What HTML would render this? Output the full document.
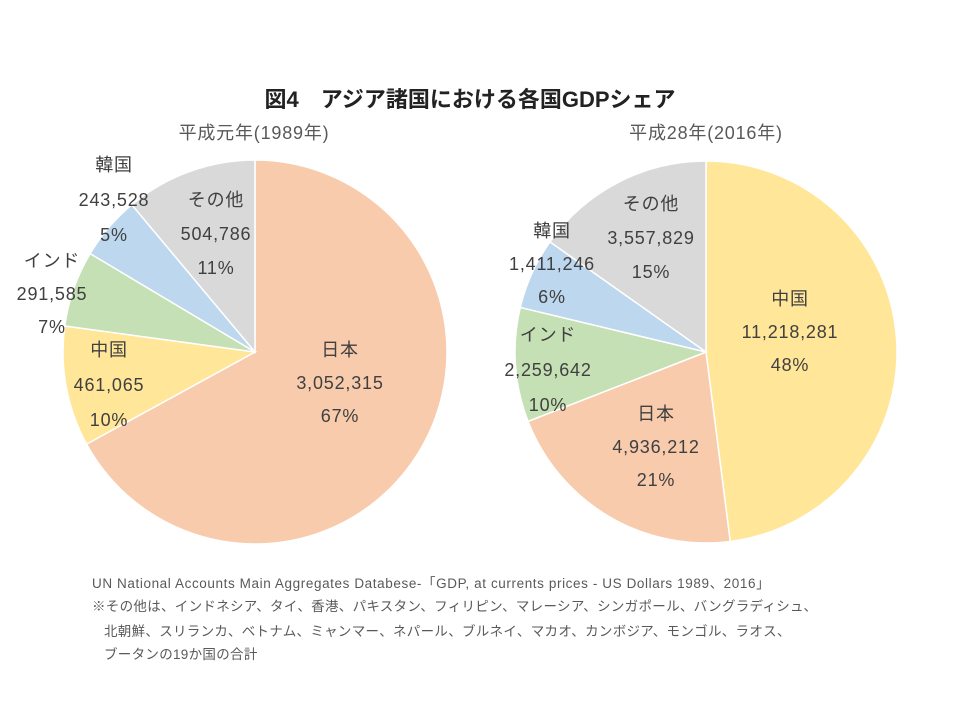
<!DOCTYPE html>
<html><head><meta charset="utf-8">
<style>
body{margin:0;background:#fff;width:960px;height:720px;overflow:hidden;font-family:"Liberation Sans","Noto Sans CJK JP",sans-serif;}
.t{position:absolute;color:#404040;font-size:18px;letter-spacing:0.8px;text-align:center;white-space:nowrap;transform:translateX(-50%);line-height:1}
.n{position:absolute;color:#595959;font-size:13.5px;letter-spacing:0.3px;white-space:nowrap;line-height:1}
</style></head><body>
<div style="position:absolute;left:470px;top:82px;transform:translateX(-50%);font-size:22px;font-weight:bold;color:#222;white-space:nowrap">図4　アジア諸国における各国GDPシェア</div>
<div class="t" style="left:254px;top:124px;color:#595959">平成元年(1989年)</div>
<div class="t" style="left:706px;top:124px;color:#595959">平成28年(2016年)</div>
<svg width="960" height="720" style="position:absolute;left:0;top:0">
<g id="p1"></g><g id="p2"></g></svg>

<div class="t" style="left:340px;top:334px;line-height:33px">日本<br>3,052,315<br>67%</div>
<div class="t" style="left:109px;top:333px;line-height:35px">中国<br>461,065<br>10%</div>
<div class="t" style="left:52px;top:245px;line-height:33px">インド<br>291,585<br>7%</div>
<div class="t" style="left:114px;top:148px;line-height:35px">韓国<br>243,528<br>5%</div>
<div class="t" style="left:216px;top:183px;line-height:34px">その他<br>504,786<br>11%</div>

<div class="t" style="left:790px;top:283px;line-height:33px">中国<br>11,218,281<br>48%</div>
<div class="t" style="left:656px;top:398px;line-height:33px">日本<br>4,936,212<br>21%</div>
<div class="t" style="left:548px;top:318px;line-height:35px">インド<br>2,259,642<br>10%</div>
<div class="t" style="left:552px;top:215px;line-height:33px">韓国<br>1,411,246<br>6%</div>
<div class="t" style="left:651px;top:187px;line-height:34px">その他<br>3,557,829<br>15%</div>

<div class="n" style="left:92px;top:577px;letter-spacing:0.6px">UN National Accounts Main Aggregates Databese-「GDP, at currents prices - US Dollars 1989、2016」</div>
<div class="n" style="left:92px;top:600px">※その他は、インドネシア、タイ、香港、パキスタン、フィリピン、マレーシア、シンガポール、バングラディシュ、</div>
<div class="n" style="left:104px;top:625px">北朝鮮、スリランカ、ベトナム、ミャンマー、ネパール、ブルネイ、マカオ、カンボジア、モンゴル、ラオス、</div>
<div class="n" style="left:104px;top:648px">ブータンの19か国の合計</div>
<script>
const cats1=["日本","中国","インド","韓国","その他"];
const vals1=[3052315,461065,291585,243528,504786];
const cats2=["中国","日本","インド","韓国","その他"];
const vals2=[11218281,4936212,2259642,1411246,3557829];
const colorMap={"日本":"#F8CBAD","中国":"#FFE699","インド":"#C5E0B4","韓国":"#BDD7EE","その他":"#D9D9D9"};
function pie(gid,cx,cy,r,cats,vals){
  const g=document.getElementById(gid);
  const tot=vals.reduce((a,b)=>a+b,0);
  let a=0;
  vals.forEach((v,i)=>{
    const a0=a/tot*2*Math.PI,a1=(a+v)/tot*2*Math.PI;a+=v;
    const x0=cx+r*Math.sin(a0),y0=cy-r*Math.cos(a0),x1=cx+r*Math.sin(a1),y1=cy-r*Math.cos(a1);
    const p=document.createElementNS("http://www.w3.org/2000/svg","path");
    p.setAttribute("d",`M${cx},${cy}L${x0},${y0}A${r},${r} 0 ${a1-a0>Math.PI?1:0} 1 ${x1},${y1}Z`);
    p.setAttribute("fill",colorMap[cats[i]]);
    p.setAttribute("stroke","#fff");p.setAttribute("stroke-width","1.5");
    
    
    g.appendChild(p);
  });
}
pie("p1",255,352,192,cats1,vals1);
pie("p2",706,352,191,cats2,vals2);
</script>
</body></html>
